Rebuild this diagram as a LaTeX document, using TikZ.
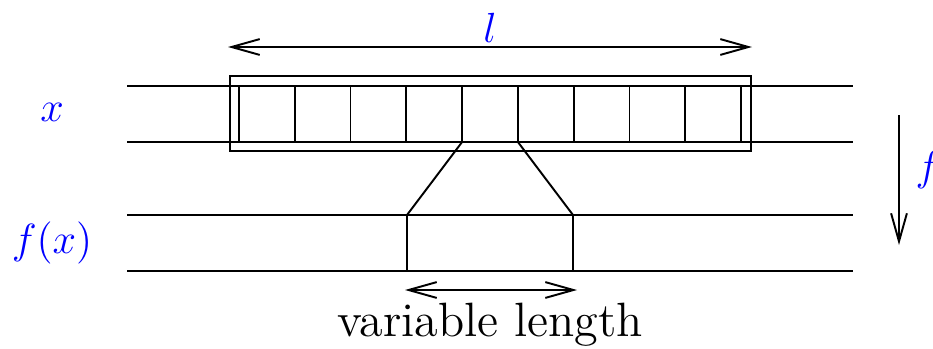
\documentclass[tikz,border=0pt]{standalone}
\usetikzlibrary{arrows.meta}
\begin{document}
\begin{tikzpicture}[x=0.01cm, y=-0.01cm, line width=0.55pt,
    >={Straight Barb[length=8pt,width=4.5pt]},
    lbl/.style={blue, font=\fontsize{12.4}{15}\selectfont},
    txt/.style={font=\fontsize{13.7}{16}\selectfont}]
    \useasboundingbox (0,0) rectangle (933,348);

    % 输入与输出两条带
    \draw (127,86) -- (853,86);
    \draw (127,142) -- (853,142);
    \draw (127,215) -- (853,215);
    \draw (127,271) -- (853,271);

    % 窗口及其格子
    \draw (230,76) rectangle (751,151);
    \foreach \i in {0,...,9}
        \draw ({238.9+55.8*\i},86) -- ({238.9+55.8*\i},142);

    % 映射到输出
    \coordinate (inL) at (462.1,142);
    \coordinate (inR) at (517.9,142);
    \coordinate (outL) at (407,215);
    \coordinate (outR) at (573,215);
    \draw (inL) -- (outL) -- (407,271);
    \draw (inR) -- (outR) -- (573,271);

    % 标注
    \coordinate (lA) at (228,47);
    \coordinate (lB) at (752,47);
    \draw[<->] (lA) -- (lB);
    \node[lbl] (lname) at (490,28) {$l$};

    \coordinate (vA) at (405,290);
    \coordinate (vB) at (577,290);
    \draw[<->] (vA) -- (vB);
    \node[txt] (vlen) at (490,325) {variable length};

    \coordinate (fA) at (899,115);
    \coordinate (fB) at (899,245);
    \draw[->] (fA) -- (fB);
    \node[lbl] (fname) at (928,170) {$f$};

    \node[lbl] (xname) at (52,112) {$x$};
    \node[lbl] (fxname) at (52,243) {$f(x)$};
\end{tikzpicture}
\end{document}
